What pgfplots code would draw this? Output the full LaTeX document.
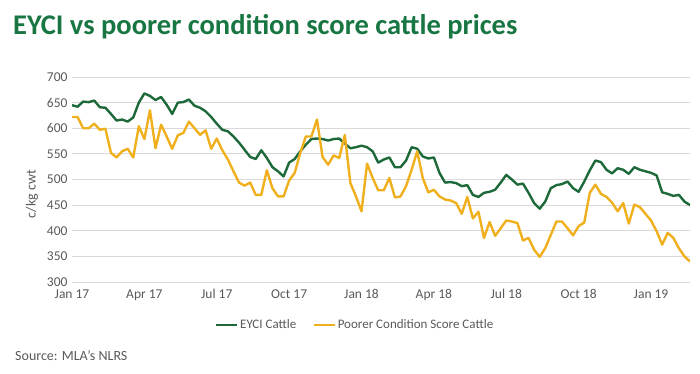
\documentclass[border=0pt]{standalone}
\usepackage{fontspec}
\setmainfont{Carlito}
\usepackage{pgfplots}
\pgfplotsset{compat=1.18}
\definecolor{eyci}{RGB}{30,105,58}
\definecolor{poor}{RGB}{240,176,30}
\definecolor{ttl}{RGB}{24,118,66}
\definecolor{txt}{RGB}{89,89,89}
\definecolor{grd}{RGB}{217,217,217}
\begin{document}
\begin{tikzpicture}
\path[use as bounding box] (0pt,0pt) rectangle (700pt,373pt);
\node[anchor=base west, text=ttl, font=\fontsize{28.5}{32}\selectfont\bfseries, inner sep=0pt] at (13pt,338pt) {EYCI vs poorer condition score cattle prices};
\node[anchor=base west, text=txt, font=\fontsize{14}{16}\selectfont, inner sep=0pt] at (15pt,13pt) {Source: MLA’s NLRS};
\node[rotate=90, text=txt, font=\fontsize{14}{16}\selectfont] at (32pt,179pt) {c/kg cwt};
\begin{axis}[
  at={(72pt,91pt)}, anchor=south west, scale only axis,
  width=618pt, height=205pt,
  xmin=0, xmax=111, ymin=300, ymax=700,
  ytick={300,350,...,700},
  xtick={0,13,26,39,52,65,78,91,104},
  xticklabels={Jan 17,Apr 17,Jul 17,Oct 17,Jan 18,Apr 18,Jul 18,Oct 18,Jan 19},
  ymajorgrids, major grid style={grd, line width=0.9pt},
  axis line style={draw=none}, tick style={draw=none},
  tick label style={font=\fontsize{13.5}{15}\selectfont, text=txt},
  /pgf/number format/assume math mode=true,
  yticklabel style={xshift=-1pt},
  xticklabel style={yshift=-4pt},
  legend columns=2,
  legend style={at={(0.458,-0.21)}, anchor=center, draw=none, fill=none,
    font=\fontsize{13}{15}\selectfont, text=txt,
    /tikz/every even column/.append style={column sep=14pt}},
  legend image code/.code={\draw[#1] (0pt,0pt) -- (21pt,0pt);},
]
\addplot[eyci, line width=2.4pt, line join=round] table {
x y
0 645
1 642
2 652
3 651
4 654
5 641
6 640
7 628
8 615
9 617
10 613
11 621
12 650
13 668
14 663
15 655
16 661
17 646
18 628
19 650
20 651
21 656
22 644
23 640
24 633
25 622
26 609
27 597
28 594
29 584
30 572
31 558
32 544
33 540
34 557
35 542
36 524
37 516
38 506
39 533
40 540
41 555
42 568
43 579
44 580
45 579
46 576
47 579
48 580
49 570
50 561
51 563
52 566
53 563
54 555
55 533
56 539
57 543
58 524
59 524
60 537
61 563
62 560
63 545
64 541
65 543
66 513
67 494
68 495
69 493
70 487
71 489
72 470
73 466
74 474
75 476
76 480
77 494
78 509
79 500
80 490
81 492
82 474
83 454
84 443
85 457
86 483
87 489
88 491
89 496
90 483
91 476
92 496
93 518
94 537
95 534
96 519
97 512
98 522
99 519
100 511
101 524
102 519
103 516
104 513
105 508
106 475
107 472
108 468
109 470
110 457
111 450
};
\addlegendentry{EYCI Cattle}
\addplot[poor, line width=2.4pt, line join=round] table {
x y
0 622
1 622
2 600
3 600
4 609
5 597
6 599
7 552
8 543
9 555
10 560
11 543
12 604
13 579
14 635
15 561
16 607
17 584
18 560
19 586
20 591
21 613
22 600
23 587
24 596
25 560
26 580
27 557
28 539
29 516
30 494
31 488
32 494
33 470
34 470
35 518
36 483
37 467
38 467
39 498
40 513
41 552
42 584
43 584
44 617
45 544
46 529
47 547
48 542
49 587
50 493
51 467
52 438
53 531
54 503
55 479
56 479
57 503
58 465
59 467
60 487
61 519
62 555
63 503
64 475
65 480
66 467
67 461
68 459
69 454
70 433
71 466
72 424
73 437
74 386
75 417
76 390
77 405
78 420
79 418
80 415
81 381
82 386
83 363
84 349
85 366
86 392
87 418
88 418
89 405
90 391
91 409
92 416
93 474
94 490
95 472
96 466
97 455
98 438
99 454
100 414
101 451
102 446
103 433
104 420
105 399
106 373
107 396
108 386
109 366
110 350
111 340
};
\addlegendentry{Poorer Condition Score Cattle}
\end{axis}
\end{tikzpicture}
\end{document}
